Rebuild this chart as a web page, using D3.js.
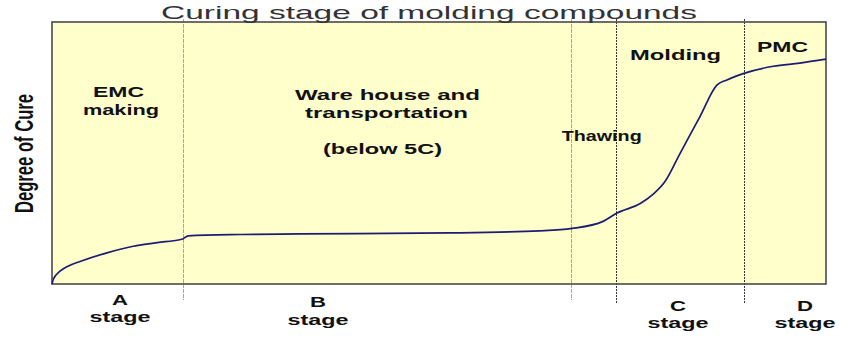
<!DOCTYPE html>
<html>
<head>
<meta charset="utf-8">
<script src="https://cdn.jsdelivr.net/npm/d3@7"></script>
<style>
  html, body { margin: 0; padding: 0; background: #ffffff; }
  svg { display: block; }
</style>
</head>
<body>
<svg id="chart" width="843" height="337"></svg>
<script>
// ---- data (time in % of process, degree of cure in %) ----
const curveTime = [0, 0.19, 0.52, 1.03, 2.2, 3.62, 7.1, 10.5, 13.6, 16.5, 16.9, 17.6, 24.3, 32.0, 51.4, 63.0, 67.2, 71.2, 73.0, 76.0, 77.6, 79.2, 81.1, 83.7, 85.9, 87.2, 89.5, 93.2, 96.6, 100];
const curveCure = [0, 1.9, 3.4, 4.9, 7.0, 8.6, 11.9, 14.4, 15.8, 16.9, 17.2, 18.4, 18.9, 19.1, 19.5, 20.3, 21.2, 23.9, 27.1, 30.7, 34.1, 39.1, 49.6, 63.8, 75.9, 77.9, 80.5, 83.1, 84.3, 85.8];

const dividerTime = [16.9, 67.1, 72.9, 89.4];
const dividerKind = ["light", "light", "dark", "dark"];

const stageLetters = ["A", "B", "C", "D"];
const regionLabels = ["EMC", "making", "Ware house and", "transportation", "(below 5C)", "Thawing", "Molding", "PMC"];

const titleText = "Curing stage of molding compounds";
const yAxisTitle = "Degree of Cure";

// ---- layout ----
const W = 843, H = 337;
const plot = { left: 52, right: 826, top: 22, bottom: 284 };
const svg = d3.select("#chart");

const x = d3.scaleLinear().domain([0, 100]).range([plot.left, plot.right]);
const y = d3.scaleLinear().domain([0, 100]).range([plot.bottom, plot.top]);

// plot background
svg.append("rect")
  .attr("x", plot.left).attr("y", plot.top)
  .attr("width", plot.right - plot.left).attr("height", plot.bottom - plot.top)
  .attr("fill", "#FFFFCC");

// divider lines
svg.selectAll("line.divider").data(dividerTime).join("line")
  .attr("class", "divider")
  .attr("x1", d => Math.round(x(d)) + 0.5).attr("x2", d => Math.round(x(d)) + 0.5)
  .attr("y1", plot.top - 3)
  .attr("y2", (d, i) => plot.bottom + (dividerKind[i] === "light" ? 16 : 20))
  .attr("stroke", (d, i) => dividerKind[i] === "light" ? "#a8a8a0" : "#333333")
  .attr("stroke-width", 1)
  .attr("stroke-dasharray", (d, i) => dividerKind[i] === "light" ? "4,1" : "2,1");

// plot frame
svg.append("rect")
  .attr("x", plot.left).attr("y", plot.top)
  .attr("width", plot.right - plot.left).attr("height", plot.bottom - plot.top)
  .attr("fill", "none").attr("stroke", "#4a4a4a").attr("stroke-width", 1.6);

// curve
const pts = curveTime.map((t, i) => [t, curveCure[i]]);
svg.append("path")
  .datum(pts)
  .attr("fill", "none")
  .attr("stroke", "#1c1c72")
  .attr("stroke-width", 1.7)
  .attr("d", d3.line().x(d => x(d[0])).y(d => y(d[1])).curve(d3.curveMonotoneX));

// helper: stretched text
function stretchText(txt, cx, baseline, width, opts) {
  opts = opts || {};
  return svg.append("text")
    .attr("x", cx - width / 2)
    .attr("y", baseline)
    .attr("font-family", opts.family || "'Liberation Sans', Arial, sans-serif")
    .attr("font-size", opts.size || 15)
    .attr("font-weight", opts.weight || "bold")
    .attr("fill", opts.fill || "#111")
    .attr("textLength", width)
    .attr("lengthAdjust", "spacingAndGlyphs")
    .text(txt);
}

// title
stretchText(titleText, 429, 18.5, 536, { size: 19, weight: "normal", fill: "#333" });

// y axis title
svg.append("text")
  .attr("transform", "translate(33,213) rotate(-90)")
  .attr("x", 0).attr("y", 0)
  .attr("font-family", "'Liberation Sans Narrow', 'Arial Narrow', 'Liberation Sans', Arial, sans-serif")
  .attr("font-size", 26)
  .attr("font-weight", "bold")
  .attr("fill", "#111")
  .attr("textLength", 119)
  .attr("lengthAdjust", "spacingAndGlyphs")
  .text(yAxisTitle);

// region labels
const regionPos = [
  [118.5, 97, 51], [121, 115, 76],
  [387.5, 100, 185], [386.5, 118, 163], [382.5, 154, 119],
  [601.7, 141, 80], [675.5, 60, 91], [782.5, 52, 51]
];
regionLabels.forEach((lab, i) => {
  const p = regionPos[i];
  stretchText(lab, p[0], p[1], p[2]);
});

// stage labels
const stageCenter = [120, 318, 678, 805];
const stageDrop = [0, 2, 6, 6];
stageLetters.forEach((s, i) => {
  stretchText(s, stageCenter[i], 305 + stageDrop[i], 16);
  stretchText("stage", stageCenter[i], 322 + stageDrop[i] + (i === 1 ? 1 : 0), 61);
});
</script>
</body>
</html>
